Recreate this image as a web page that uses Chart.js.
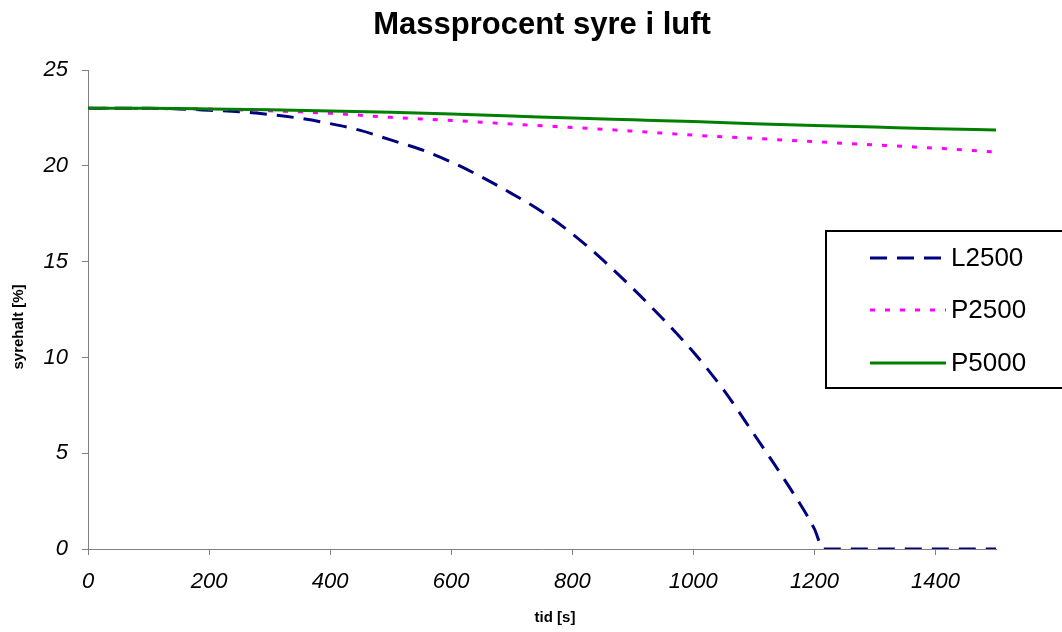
<!DOCTYPE html>
<html>
<head>
<meta charset="utf-8">
<script src="https://cdn.jsdelivr.net/npm/chart.js@4/dist/chart.umd.min.js"></script>
<style>
  html, body { margin: 0; padding: 0; background: #ffffff; }
  #wrap { width: 1062px; height: 632px; }
</style>
</head>
<body>
<div id="wrap"><canvas id="c" width="1062" height="632"></canvas></div>
<script>
// Texts
const chartTitle = 'Massprocent syre i luft';
const xTitle = 'tid [s]';
const yTitle = 'syrehalt [%]';
const seriesNames = ['L2500', 'P2500', 'P5000'];

// L2500 (time in s, oxygen mass percent)
const timeL2500 = [0, 50, 100, 150, 200, 250, 300, 350, 400, 450, 500, 550, 600, 650, 700, 750,
                   800, 850, 900, 950, 1000, 1050, 1100, 1150, 1200, 1215, 1300, 1400, 1500];
const L2500 = [23.0, 23.0, 23.0, 22.97, 22.9, 22.82, 22.68, 22.48, 22.2, 21.85, 21.35, 20.85, 20.2, 19.42, 18.55, 17.6,
               16.45, 15.1, 13.6, 12.0, 10.28, 8.3, 6.0, 3.65, 1.05, 0, 0, 0, 0];

// P2500 and P5000 share one time grid
const timeP = [0, 100, 200, 300, 400, 500, 600, 700, 800, 900, 1000, 1100, 1200, 1300, 1400, 1500];
const P2500 = [23.0, 22.99, 22.96, 22.87, 22.74, 22.53, 22.37, 22.18, 22.0, 21.81, 21.6, 21.43, 21.26, 21.09, 20.92, 20.72];
const P5000 = [23.0, 23.0, 22.97, 22.92, 22.86, 22.79, 22.7, 22.6, 22.49, 22.4, 22.31, 22.2, 22.1, 22.02, 21.94, 21.87];

// Axis ticks
const xTicks = [0, 200, 400, 600, 800, 1000, 1200, 1400];
const yTicks = [0, 5, 10, 15, 20, 25];

const FONT = '"Liberation Sans", Arial, sans-serif';
const AXIS_GREY = '#808080';

function pairs(xs, ys) { return xs.map((x, i) => ({ x: x, y: ys[i] })); }

// Titles and the boxed legend, painted on top of the plot
const decorations = {
  id: 'decorations',
  afterDraw(chart) {
    const ctx = chart.ctx;
    ctx.save();
    ctx.fillStyle = '#000';

    ctx.font = 'bold 31px ' + FONT;
    ctx.textAlign = 'center';
    ctx.textBaseline = 'alphabetic';
    ctx.fillText(chartTitle, 542, 34);

    ctx.font = 'bold 15px ' + FONT;
    ctx.textBaseline = 'middle';
    ctx.fillText(xTitle, 555, 618);

    ctx.save();
    ctx.translate(19, 327);
    ctx.rotate(-Math.PI / 2);
    ctx.fillText(yTitle, 0, 0);
    ctx.restore();

    // legend box
    const bx = 826, by = 231, bw = 240, bh = 157;
    ctx.fillStyle = '#fff';
    ctx.fillRect(bx, by, bw, bh);
    ctx.strokeStyle = '#000';
    ctx.lineWidth = 2;
    ctx.strokeRect(bx, by, bw, bh);

    const rows = [258, 310, 363];
    chart.data.datasets.forEach((ds, i) => {
      const y = rows[i];
      ctx.strokeStyle = ds.borderColor;
      ctx.lineWidth = ds.borderWidth;
      ctx.setLineDash(ds.borderDash || []);
      ctx.beginPath();
      ctx.moveTo(870, y);
      ctx.lineTo(946, y);
      ctx.stroke();
      ctx.setLineDash([]);
      ctx.fillStyle = '#000';
      ctx.font = '26px ' + FONT;
      ctx.textAlign = 'left';
      ctx.textBaseline = 'middle';
      ctx.fillText(ds.label, 951, y + 1);
    });
    ctx.restore();
  }
};

new Chart(document.getElementById('c'), {
  type: 'line',
  data: {
    datasets: [
      {
        label: seriesNames[0],
        data: pairs(timeL2500, L2500),
        borderColor: '#000080',
        borderWidth: 3,
        borderDash: [17, 10],
        order: 3
      },
      {
        label: seriesNames[1],
        data: pairs(timeP, P2500),
        borderColor: '#FF00FF',
        borderWidth: 3,
        borderDash: [5, 10],
        order: 2
      },
      {
        label: seriesNames[2],
        data: pairs(timeP, P5000),
        borderColor: '#008000',
        borderWidth: 3,
        order: 1
      }
    ]
  },
  options: {
    responsive: false,
    animation: false,
    devicePixelRatio: 1,
    layout: { padding: { top: 70, right: 66, left: 0, bottom: 0 } },
    elements: {
      point: { radius: 0 },
      line: { fill: false, cubicInterpolationMode: 'monotone' }
    },
    plugins: {
      legend: { display: false },
      title: { display: false },
      tooltip: { enabled: false }
    },
    scales: {
      x: {
        type: 'linear',
        min: 0,
        max: 1500,
        afterBuildTicks(scale) { scale.ticks = xTicks.map(v => ({ value: v })); },
        afterFit(scale) { scale.height = 83; },
        grid: { drawOnChartArea: false, drawTicks: true, tickLength: 6, tickColor: AXIS_GREY, tickWidth: 1 },
        border: { color: AXIS_GREY, width: 1 },
        ticks: {
          color: '#000',
          font: { family: FONT, size: 22, style: 'italic' },
          padding: 14,
          maxRotation: 0,
          callback: (v) => String(v)
        }
      },
      y: {
        type: 'linear',
        min: 0,
        max: 25,
        afterBuildTicks(scale) { scale.ticks = yTicks.map(v => ({ value: v })); },
        afterFit(scale) { scale.width = 88; },
        grid: { drawOnChartArea: false, drawTicks: true, tickLength: 6, tickColor: AXIS_GREY, tickWidth: 1 },
        border: { color: AXIS_GREY, width: 1 },
        ticks: {
          color: '#000',
          font: { family: FONT, size: 22, style: 'italic' },
          padding: 14,
          callback: (v) => String(v)
        }
      }
    }
  },
  plugins: [decorations]
});
</script>
</body>
</html>
